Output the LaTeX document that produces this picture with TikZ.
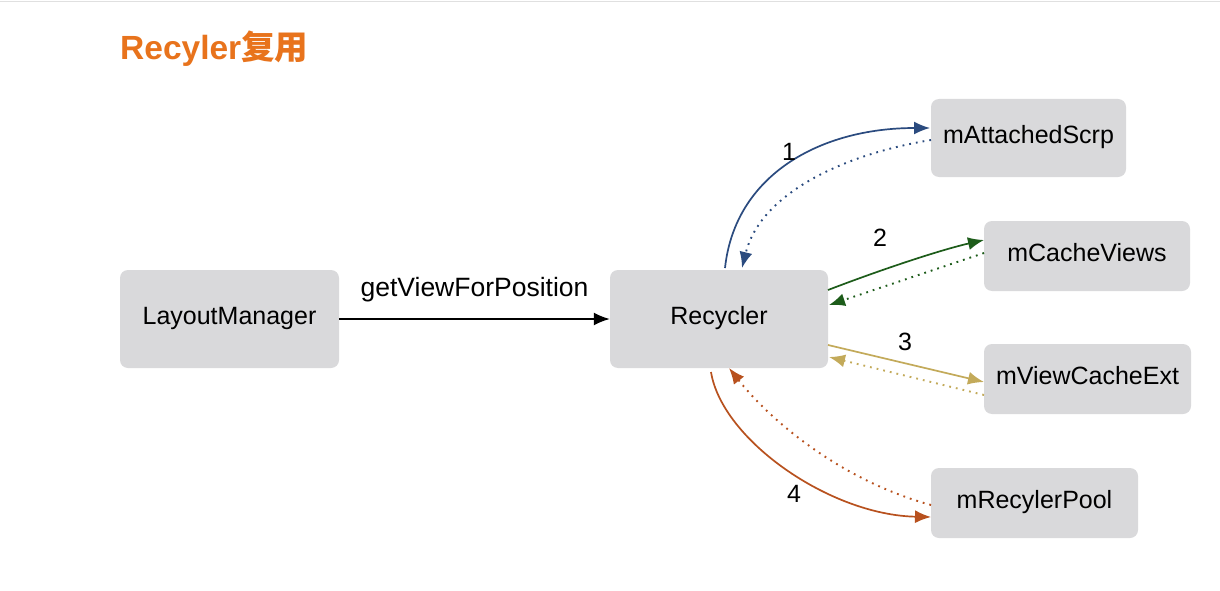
\documentclass[tikz,border=0pt]{standalone}
\usepackage{fontspec}
\setmainfont{Liberation Sans}
\newfontfamily\cjk{Noto Sans CJK SC}
\usetikzlibrary{arrows.meta}
\definecolor{boxgray}{RGB}{217,217,219}
\definecolor{ttl}{RGB}{232,115,28}
\definecolor{cblue}{RGB}{43,75,127}
\definecolor{cgreen}{RGB}{29,92,26}
\definecolor{ctan}{RGB}{195,170,90}
\definecolor{cbrown}{RGB}{184,81,30}
\tikzset{
  box/.style={fill=boxgray, rounded corners=8pt, inner sep=0pt, font=\fontsize{25}{29}\selectfont},
  lbl/.style={font=\fontsize{25}{29}\selectfont, inner sep=0pt},
  solidarr/.style={line width=1.7pt, -{Latex[length=16pt,width=13pt]}},
  dotarr/.style={line width=1.9pt, dash pattern=on 1.8pt off 5pt, -{Latex[length=16pt,width=13pt]}}
}
\begin{document}
\begin{tikzpicture}[x=1pt,y=-1pt]
\useasboundingbox (0,0) rectangle (1220,591);
\fill[white] (0,0) rectangle (1220,591);
\draw[black!12, line width=1.5pt] (0,1.5) -- (1220,1.5);
\node[anchor=west, text=ttl, font=\fontsize{33.5}{38}\selectfont\bfseries, inner sep=0pt] (title) at (120,49) {Recyler{\cjk\bfseries 复用}};
\node[box, minimum width=219pt, minimum height=98pt] (lm) at (229.5,319) {\strut LayoutManager};
\node[box, minimum width=218pt, minimum height=98pt] (rc) at (719,319) {\strut Recycler};
\node[box, minimum width=195pt, minimum height=78pt] (as) at (1028.5,138) {\strut mAttachedScrp};
\node[box, minimum width=206pt, minimum height=70pt] (cv) at (1087,256) {\strut mCacheViews};
\node[box, minimum width=207pt, minimum height=70pt] (vc) at (1087.5,379) {\strut mViewCacheExt};
\node[box, minimum width=207pt, minimum height=70pt] (rp) at (1034.5,503) {\strut mRecylerPool};
% main arrow
\draw[line width=1.7pt, -{Latex[length=16pt,width=13pt]}] (lm.east) -- node[lbl, font=\fontsize{26.5}{30}\selectfont, above=16pt] {getViewForPosition} (rc.west);
% 1
\coordinate (r1s) at (725,268);
\coordinate (a1e) at (930,128);
\coordinate (a1s) at (931,140);
\coordinate (r1e) at (742,268);
\draw[solidarr, cblue] (r1s) .. controls (735,175) and (820,128) .. (a1e);
\draw[dotarr, cblue] (a1s) .. controls (840,155) and (760,195) .. (r1e);
\node[lbl] (n1) at (789,152) {1};
% 2
\coordinate (r2s) at (828,290);
\coordinate (c2e) at (984,240);
\coordinate (c2s) at (984,253);
\coordinate (r2e) at (829,305);
\draw[solidarr, cgreen] (r2s) .. controls (880,270) and (940,250) .. (c2e);
\draw[dotarr, cgreen] (c2s) -- (r2e);
\node[lbl] (n2) at (880,238) {2};
% 3
\coordinate (r3s) at (828,345);
\coordinate (v3e) at (984,382);
\coordinate (v3s) at (984,395);
\coordinate (r3e) at (829,357);
\draw[solidarr, ctan] (r3s) -- (v3e);
\draw[dotarr, ctan] (v3s) -- (r3e);
\node[lbl] (n3) at (905,342) {3};
% 4
\coordinate (r4s) at (711,372);
\coordinate (p4e) at (931,517);
\coordinate (p4s) at (931,505);
\coordinate (r4e) at (729,368);
\draw[solidarr, cbrown] (r4s) .. controls (722,440) and (830,515) .. (p4e);
\draw[dotarr, cbrown] (p4s) .. controls (840,480) and (770,420) .. (r4e);
\node[lbl] (n4) at (794,494) {4};
\end{tikzpicture}
\end{document}
